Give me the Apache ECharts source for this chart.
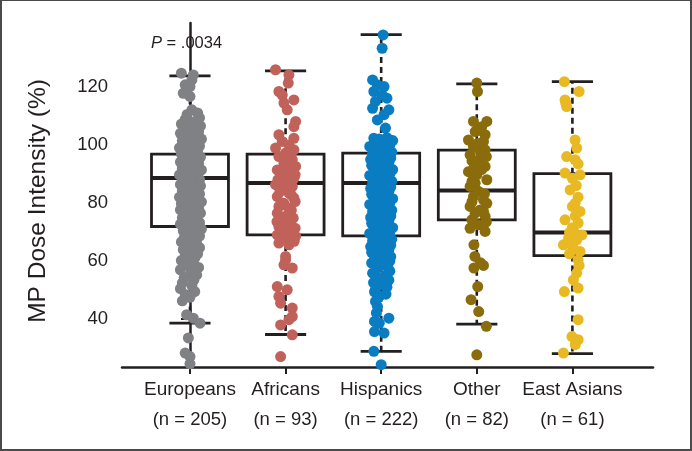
<!DOCTYPE html>
<html>
<head>
<meta charset="utf-8">
<script src="https://cdn.jsdelivr.net/npm/echarts@6/dist/echarts.min.js"></script>
<style>
html,body{margin:0;padding:0;background:#fff;}
#wrap{position:relative;width:692px;height:451px;}
#chart{width:692px;height:451px;}
#frame{position:absolute;left:0;top:0;width:692px;height:451px;box-sizing:border-box;border:2px solid #4a4a4a;border-top-width:1px;pointer-events:none;}
</style>
</head>
<body>
<div id="wrap"><div id="chart"></div><div id="frame"></div></div>
<script>
// ---- data ----
const categories = ['Europeans', 'Africans', 'Hispanics', 'Other', 'East Asians'];
const counts = [205, 93, 222, 82, 61];
const yTicks = [40, 60, 80, 100, 120];
const pValueText = '.0034';

// box stats: [low whisker, Q1, median, Q3, high whisker]
const boxStats = [
  [38.6, 71.9, 88.6, 96.8, 123.8],
  [34.7, 69.0, 86.9, 96.8, 125.5],
  [28.9, 68.7, 86.9, 97.2, 138.0],
  [38.3, 74.2, 84.3, 98.2, 121.0],
  [28.1, 61.9, 69.8, 90.1, 121.8]
];

// individual points: values (MP dose intensity %) and horizontal jitter
const europeansValues = [124.7,124.1,122.4,120.7,120.1,117.8,116.7,
 112.1,111,110.5,109.3,108.8,108,107.2,106.5,106,105.2,104.5,104,103.3,102.6,102,101.4,100.8,100.2,99.6,99,98.5,98,97.4,96.9,96.3,95.8,95.2,94.7,94.1,93.6,93,92.5,91.9,91.4,90.8,90.3,89.7,89.2,88.6,88.1,87.5,87,86.4,85.9,85.3,84.8,84.2,83.7,83.1,82.6,82,81.5,80.9,80.4,79.8,79.3,78.7,78.2,77.6,77.1,76.5,76,75.4,74.9,74.3,73.8,73.2,72.7,72.1,71.6,71,70.4,69.8,69.2,68.6,68,67.3,66.6,66,65.3,64.6,63.9,63.2,62.5,61.8,61,60.2,59.4,58.6,57.8,57,56.1,55.2,54.3,53.4,52.5,51.5,50.5,49.5,48.5,47.5,46.3,
 41.5,40.3,38.6,33.5,28.3,27.1,24.6];
const europeansJitter = [-0.09,0.035,0.02,-0.05,0.0,-0.07,0.0,
 0.02,0.08,-0.03,0.1,-0.05,0.05,-0.09,0.11,0,-0.06,0.09,-0.1,0.03,-0.04,0.12,-0.08,0.06,-0.02,0.1,-0.11,0.04,-0.05,0.08,-0.09,0.01,0.11,-0.06,0.05,-0.1,0.09,-0.02,0.07,-0.08,0.12,-0.04,0.03,-0.11,0.08,-0.01,0.1,-0.07,0.04,-0.1,0.11,-0.03,0.06,-0.08,0.02,0.1,-0.05,-0.11,0.07,-0.02,0.12,-0.09,0.04,-0.04,0.09,-0.1,0.01,0.11,-0.06,0.06,-0.08,0.03,-0.02,0.1,-0.1,0.05,-0.04,0.12,-0.07,0.08,-0.01,0.1,-0.06,0.04,-0.09,0.07,-0.03,0.1,-0.07,0.02,0.08,-0.05,0.05,-0.09,0.03,-0.04,0.09,-0.1,0.01,0.07,-0.06,0.04,-0.08,0.02,-0.1,0.05,-0.05,0.0,-0.08,
 -0.035,0.035,0.105,-0.017,-0.05,0.0,0.0];

const africansValues = [125.9,124.1,121.3,118.4,117.2,115.5,114.4,112.1,108.1,106.3,103.5,102.3,101.2,100.0,98.9,98.3,97.2,96.0,94.9,93.7,92.6,91.4,90.3,89.1,88.5,87.4,86.3,85.7,84.5,83.4,82.2,81.7,79.9,78.8,78.2,76.5,75.4,74.2,73.1,71.9,70.8,69.6,69.0,68.5,67.3,66.2,65.6,
 95.5,93.0,90.8,89.7,88.0,86.8,85.0,83.9,82.8,80.5,79.3,77.5,76.0,74.8,73.6,72.5,71.3,70.2,68.0,66.8,
 61.6,60.4,58.7,57.6,51.2,50.1,47.8,45.5,43.8,40.9,39.8,38.0,34.6,27.1];
const africansJitter = [-0.105,0.035,0.028,-0.07,-0.035,0.087,-0.017,0.017,0.105,0.087,-0.07,0.087,-0.035,0.035,-0.105,0.087,0.0,-0.07,0.07,-0.017,0.105,-0.087,0.035,-0.052,0.087,0.0,-0.105,0.07,-0.035,0.035,-0.087,0.087,-0.017,-0.07,0.035,-0.087,0.0,-0.052,0.017,-0.07,-0.017,0.07,-0.087,0.105,-0.035,-0.07,0.035,
 0.02,0.05,-0.02,0.1,-0.08,0.05,-0.01,-0.06,0.06,0.1,-0.04,0.06,0.03,0.08,-0.09,0.05,0.1,-0.05,0.02,0.09,
 0.0,0.0,-0.017,0.07,-0.087,0.017,-0.07,-0.052,0.07,0.07,0.035,-0.052,0.07,-0.052];

const hispanicsValues = [137.9,133.3,122.4,120.7,120.1,118.4,117.2,116.1,115.0,112.6,112.1,110.4,108.6,105.8,102.3,
 102.5,102,101.5,101,100.5,100,99.5,99,98.5,98,97.5,97,96.5,96,95.5,95,94.5,94,93.5,93,92.5,92,91.5,91,90.5,90,89.5,89,88.5,88,87.5,87,86.5,86,85.5,85,84.5,84,83.5,83,82.5,82,81.5,81,80.5,80,79.5,79,78.5,78,77.5,77,76.5,76,75.5,75,74.5,74,73.5,73,72.5,72,71.5,71,70.5,70,69.5,69,68.5,68,67.5,67,66.5,66,65.5,65,64.5,64,63.5,63,62.5,62,61.5,61,60.5,60,59.3,58.6,57.9,57.2,56.5,55.8,55,54.2,53.4,52.6,51.8,51,50.2,49.4,48.6,47.8,
 46.1,44.4,42.1,40.3,39.2,38.6,35.7,35.2,28.9,24.3];
const hispanicsJitter = [0.02,0.01,-0.09,-0.04,0.03,-0.077,0.01,0.06,-0.06,-0.09,0.08,0.03,-0.04,0.045,-0.077,
 0.06,-0.02,0.12,-0.07,0.03,0.09,-0.12,0.0,0.07,-0.05,0.11,-0.09,0.04,-0.03,0.1,-0.11,0.02,0.08,-0.06,-0.1,0.06,-0.02,0.12,-0.07,0.03,0.09,-0.12,0.0,0.07,-0.05,0.11,-0.09,0.04,-0.03,0.1,-0.11,0.02,0.08,-0.06,-0.1,0.06,-0.02,0.12,-0.07,0.03,0.09,-0.12,0.0,0.07,-0.05,0.11,-0.09,0.04,-0.03,0.1,-0.11,0.02,0.08,-0.06,-0.1,0.06,-0.02,0.12,-0.07,0.03,0.09,-0.12,0.0,0.07,-0.05,0.11,-0.09,0.04,-0.03,0.1,-0.11,0.02,0.08,-0.06,-0.1,0.06,-0.02,0.1,-0.07,0.03,0.09,-0.1,0.0,0.07,-0.05,0.09,-0.09,0.04,-0.03,0.08,-0.08,0.02,0.06,-0.06,-0.07,0.05,-0.02,
 -0.06,-0.04,-0.05,0.08,-0.07,-0.02,-0.07,0.03,-0.077,0.0];

const otherValues = [121.3,118.4,108.1,108.1,106.3,104.6,103.5,101.7,101.2,99.5,98.3,96.6,95.4,93.7,92.6,90.8,89.7,88.0,86.8,85.7,84.0,82.2,81.1,79.9,78.8,77.6,76.5,75.4,74.2,72.5,71.3,70.2,
 105,100.5,97.5,94.5,91.5,87.5,83.2,80.5,77,73.5,96,92,
 65.6,61.6,59.4,58.5,57.6,51.2,46.7,42.6,37.5,27.7];
const otherJitter = [0.0,0.007,-0.035,0.105,0.052,-0.017,0.087,-0.087,0.07,-0.035,0.087,-0.07,0.035,-0.017,0.087,-0.087,0.0,0.105,-0.017,-0.07,0.017,-0.035,0.07,0.105,-0.07,0.035,-0.017,0.087,-0.052,0.017,-0.07,0.087,
 0.02,0.01,0.04,-0.05,0.05,-0.05,0.08,-0.05,0.07,0.1,0.1,-0.03,
 -0.03,-0.02,0.04,0.07,-0.03,0.01,-0.06,0.02,0.1,0.0];

const eastAsiansValues = [121.8,118.4,115.5,114.5,113.2,101.7,98.9,96.0,94.9,93.5,90.3,89.7,88.5,86,84.5,82,79.9,78.8,77.1,75.5,74.2,73.1,71.5,70.8,69.8,69.0,67.9,67.3,66.5,65.6,64.4,63.3,62.5,60.4,58.5,55.8,53.5,50.7,49.5,39.8,34.0,32.9,31.2,28.3];
const eastAsiansJitter = [-0.084,0.07,-0.077,-0.07,-0.06,0.028,0.045,-0.06,0.028,0.06,-0.077,0.08,0.0,0.04,-0.024,0.06,0.028,0.0,0.08,0.03,-0.077,0.06,0.0,0.01,-0.03,0.1,-0.04,0.045,0.0,-0.094,0.01,0.08,-0.03,0.06,0.07,0.045,0.01,0.06,-0.084,0.06,-0.005,0.06,0.03,-0.094];

const pointValues = [europeansValues, africansValues, hispanicsValues, otherValues, eastAsiansValues];
const pointJitter = [europeansJitter, africansJitter, hispanicsJitter, otherJitter, eastAsiansJitter];
const colors = ['#808184', '#c0625a', '#0a7dc2', '#8a6c0c', '#e8b923'];

// ---- chart ----
const FONT = '"Liberation Sans", Arial, Helvetica, sans-serif';
const INK = '#231f20';
const BOX_W = 0.805, CAP_W = 0.43;

const chart = echarts.init(document.getElementById('chart'), null, {renderer: 'canvas'});

const boxSeries = {
  type: 'custom',
  z: 1,
  data: boxStats.map((s, i) => [i].concat(s)),
  encode: {x: 0, y: [1, 2, 3, 4, 5]},
  renderItem: function (params, api) {
    const x = api.value(0);
    const low = api.coord([x, api.value(1)]);
    const q1 = api.coord([x, api.value(2)]);
    const med = api.coord([x, api.value(3)]);
    const q3 = api.coord([x, api.value(4)]);
    const high = api.coord([x, api.value(5)]);
    const bw = api.size([BOX_W, 0])[0];
    const cw = api.size([CAP_W, 0])[0];
    const cx = low[0];
    const dashStyle = {stroke: INK, lineWidth: 2.6, lineDash: [6, 4], fill: null};
    const solid = {stroke: INK, lineWidth: 2.8, fill: null};
    return {
      type: 'group',
      children: [
        {type: 'line', shape: {x1: cx, y1: q3[1], x2: cx, y2: high[1]}, style: dashStyle},
        {type: 'line', shape: {x1: cx, y1: q1[1], x2: cx, y2: low[1]}, style: dashStyle},
        {type: 'line', shape: {x1: cx - cw / 2, y1: high[1], x2: cx + cw / 2, y2: high[1]}, style: solid},
        {type: 'line', shape: {x1: cx - cw / 2, y1: low[1], x2: cx + cw / 2, y2: low[1]}, style: solid},
        {type: 'rect', shape: {x: cx - bw / 2, y: q3[1], width: bw, height: q1[1] - q3[1]}, style: {stroke: INK, lineWidth: 2.8, fill: 'rgba(255,255,255,0)'}},
        {type: 'line', shape: {x1: cx - bw / 2, y1: med[1], x2: cx + bw / 2, y2: med[1]}, style: {stroke: INK, lineWidth: 4}}
      ]
    };
  }
};

const pointSeries = categories.map((c, i) => ({
  type: 'scatter',
  name: c,
  z: 3,
  symbol: 'circle',
  symbolSize: 11,
  itemStyle: {color: colors[i], opacity: 1},
  data: pointValues[i].map((v, k) => [i + pointJitter[i][k], v])
}));

chart.setOption({
  animation: false,
  backgroundColor: '#fff',
  title: {
    text: '{i|P} = ' + pValueText,
    left: 146, top: 30,
    textStyle: {
      fontFamily: FONT, fontSize: 16.5, fontWeight: 'normal', color: INK,
      rich: {i: {fontFamily: FONT, fontSize: 16.5, fontStyle: 'italic', color: INK}}
    }
  },
  grid: {left: 122, right: 39, top: 23, bottom: 84, containLabel: false},
  xAxis: {
    type: 'value',
    min: -0.711, max: 4.843,
    splitLine: {show: false},
    axisLine: {show: true, lineStyle: {color: INK, width: 2.5}},
    axisTick: {show: true, customValues: [0, 1, 2, 3, 4], length: 7, lineStyle: {color: INK, width: 2}},
    axisLabel: {
      customValues: [0, 1, 2, 3, 4],
      margin: 8,
      formatter: function (v) {
        const i = Math.round(v);
        return '{a|' + categories[i] + '}\n{b|(n = ' + counts[i] + ')}';
      },
      rich: {
        a: {fontFamily: FONT, fontSize: 19, color: INK, lineHeight: 30},
        b: {fontFamily: FONT, fontSize: 18.5, color: INK, lineHeight: 30}
      }
    }
  },
  yAxis: {
    type: 'value',
    min: 23.5, max: 142,
    name: 'MP Dose Intensity (%)',
    nameLocation: 'middle',
    nameGap: 71,
    nameTextStyle: {fontFamily: FONT, fontSize: 24.5, color: INK, padding: [0, 12, 0, 0]},
    splitLine: {show: false},
    axisLine: {show: true, lineStyle: {color: INK, width: 2.5}},
    axisTick: {show: true, customValues: yTicks, length: 9, lineStyle: {color: INK, width: 2}},
    axisLabel: {customValues: yTicks, margin: 14, fontFamily: FONT, fontSize: 18.5, color: INK}
  },
  series: [boxSeries].concat(pointSeries)
});
</script>
</body>
</html>
